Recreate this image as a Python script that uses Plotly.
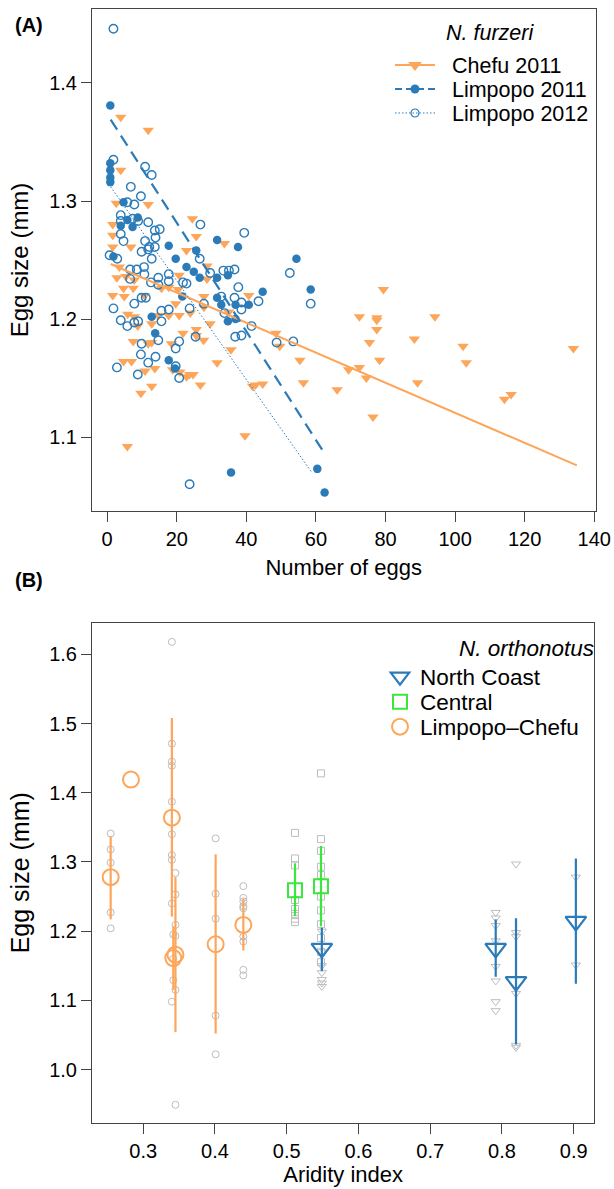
import plotly.graph_objects as go

# ---------------- Panel A data (N. furzeri) ----------------
chefu_x = [3.9, 11.8, 3.9, 2.6, 11.8, 24.5, 1.6, 1.6, 25.6, 33.7, 6.8, 1.6, 22.8, 3.5, 28.7, 28.7,
           5.4, 2.8, 7.8, 20.7, 20.4, 17.7, 15.6, 7.5, 4.7, 40.7, 27.8, 48.5, 34.9, 29.6, 25.6, 27.7,
           25.6, 23.9, 27.8, 19.7, 20.7, 17.7, 14.7, 12.8, 10.7, 1.6, 4.9, 5.9, 7.8, 8.8, 12.8, 7.5,
           11.8, 18.5, 21.8, 35.6, 31.6, 41.8, 44.7, 42.6, 39.6, 5.8, 55.4, 56.4, 66.1, 26.8, 23.7,
           22.8, 24.7, 18.8, 20.9, 12.8, 9.7, 13.7, 10.9, 4.7, 7.0, 49.6, 79.4, 72.5, 77.5, 77.5, 77.5,
           94.2, 75.4, 88.3, 102.3, 103.2, 134.0, 78.3, 69.4, 72.5, 74.5, 89.2, 114.2, 116.1, 76.4]
chefu_y = [1.371, 1.360, 1.326, 1.298, 1.297, 1.285, 1.280, 1.271, 1.270, 1.264, 1.261, 1.261, 1.258,
           1.244, 1.245, 1.234, 1.236, 1.235, 1.233, 1.237, 1.225, 1.227, 1.226, 1.226, 1.226, 1.220,
           1.219, 1.188, 1.206, 1.196, 1.191, 1.182, 1.186, 1.205, 1.210, 1.213, 1.203, 1.203, 1.203,
           1.196, 1.220, 1.220, 1.219, 1.204, 1.202, 1.194, 1.180, 1.181, 1.179, 1.179, 1.188, 1.174,
           1.163, 1.143, 1.145, 1.144, 1.101, 1.092, 1.165, 1.146, 1.140, 1.144, 1.153, 1.151, 1.153,
           1.157, 1.155, 1.143, 1.137, 1.158, 1.156, 1.164, 1.164, 1.177, 1.225, 1.202, 1.201, 1.199,
           1.191, 1.202, 1.180, 1.183, 1.177, 1.163, 1.175, 1.165, 1.157, 1.159, 1.150, 1.146, 1.132,
           1.136, 1.117]

lim11_x = [0.9, 0.9, 0.9, 0.9, 0.9, 4.7, 5.8, 8.8, 3.9, 7.3, 17.7, 31.6, 37.6, 25.6, 1.8, 19.7, 22.8,
           24.9, 26.6, 31.6, 34.7, 44.7, 31.6, 32.8, 36.9, 40.7, 54.4, 58.5, 34.7, 36.9, 12.8, 13.8,
           17.7, 35.6, 60.4, 62.5, 21.6, 19.5]
lim11_y = [1.381, 1.332, 1.326, 1.320, 1.316, 1.299, 1.284, 1.286, 1.279, 1.278, 1.262, 1.267, 1.261,
           1.258, 1.253, 1.251, 1.244, 1.240, 1.235, 1.235, 1.237, 1.223, 1.218, 1.212, 1.212, 1.212,
           1.251, 1.225, 1.198, 1.200, 1.202, 1.188, 1.165, 1.070, 1.073, 1.053, 1.219, 1.158]

lim12_x = [1.8, 1.8, 10.9, 12.8, 6.8, 9.7, 5.8, 7.8, 3.9, 3.9, 7.3, 8.9, 11.8, 26.8, 13.7, 15.1, 39.4,
           3.9, 13.9, 10.9, 4.7, 12.1, 9.9, 11.8, 0.7, 2.9, 26.6, 12.8, 29.6, 33.4, 35.0, 36.6, 6.6,
           8.5, 10.6, 6.6, 10.7, 14.7, 17.7, 12.6, 14.7, 17.7, 21.8, 22.8, 37.7, 43.5, 32.8, 36.6,
           38.6, 38.6, 58.5, 52.5, 48.7, 53.5, 41.5, 33.7, 23.7, 27.8, 17.7, 15.6, 15.6, 9.9, 7.8,
           1.8, 3.9, 5.8, 7.8, 8.9, 14.7, 9.9, 20.7, 19.7, 25.4, 36.8, 38.6, 20.7, 19.7, 13.9, 11.8,
           9.7, 2.8, 8.8, 23.7, 13.7, 11.1]
lim12_y = [1.446, 1.335, 1.329, 1.322, 1.312, 1.304, 1.299, 1.297, 1.288, 1.283, 1.285, 1.283, 1.282,
           1.280, 1.275, 1.276, 1.273, 1.272, 1.269, 1.266, 1.266, 1.261, 1.257, 1.259, 1.254, 1.251,
           1.251, 1.251, 1.239, 1.241, 1.241, 1.242, 1.242, 1.242, 1.244, 1.234, 1.238, 1.235, 1.238,
           1.231, 1.229, 1.232, 1.231, 1.230, 1.227, 1.215, 1.219, 1.218, 1.214, 1.208, 1.213, 1.239,
           1.180, 1.181, 1.194, 1.205, 1.209, 1.213, 1.208, 1.207, 1.198, 1.218, 1.213, 1.209, 1.199,
           1.194, 1.197, 1.198, 1.182, 1.179, 1.181, 1.175, 1.185, 1.185, 1.186, 1.150, 1.160, 1.168,
           1.163, 1.170, 1.159, 1.153, 1.060, 1.261, 1.218]

# fitted regression lines (end points)
chefu_fit_x = [1, 135]
chefu_fit_y = [1.2466, 1.0759]
lim11_fit_x = [1, 62.5]
lim11_fit_y = [1.369, 1.086]
lim12_fit_x = [1, 58.8]
lim12_fit_y = [1.312, 1.070]

# ---------------- Panel B data (N. orthonotus) ----------------
lc_ind_x = ([0.2547] * 5 + [0.340] * 10 + [0.345] * 6 + [0.342] * 3 + [0.401] * 5 + [0.4396] * 9)
lc_ind_y = [1.341, 1.318, 1.299, 1.227, 1.204,
            1.618, 1.471, 1.445, 1.439, 1.387, 1.340, 1.310, 1.303, 1.240, 1.098,
            1.284, 1.253, 1.209, 1.193, 1.115, 0.949,
            1.195, 1.160, 1.129,
            1.334, 1.254, 1.218, 1.078, 1.022,
            1.265, 1.248, 1.243, 1.236, 1.233, 1.192, 1.185, 1.144, 1.136]
ce_ind_x = [0.5116] * 8 + [0.5478] * 11
ce_ind_y = [1.342, 1.305, 1.295, 1.245, 1.232, 1.225, 1.218, 1.213,
            1.428, 1.333, 1.316, 1.293, 1.281, 1.250, 1.230, 1.210, 1.190, 1.170, 1.155]
nc_ind_x = [0.549] * 7 + [0.7913] * 8 + [0.8196] * 6 + [0.903] * 2
nc_ind_y = [1.200, 1.170, 1.150, 1.140, 1.130, 1.125, 1.120,
            1.227, 1.219, 1.208, 1.186, 1.149, 1.128, 1.098, 1.085,
            1.297, 1.198, 1.192, 1.110, 1.035, 1.032,
            1.278, 1.151]

lc_x = [0.2547, 0.283, 0.340, 0.342, 0.345, 0.401, 0.4396]
lc_mean = [1.278, 1.419, 1.364, 1.161, 1.166, 1.181, 1.209]
lc_hi = [1.337, 1.419, 1.508, 1.207, 1.278, 1.311, 1.247]
lc_lo = [1.217, 1.419, 1.221, 1.115, 1.054, 1.052, 1.172]
ce_x = [0.5116, 0.5478]
ce_mean = [1.259, 1.265]
ce_hi = [1.298, 1.323]
ce_lo = [1.222, 1.207]
nc_x = [0.549, 0.7913, 0.8196, 0.903]
nc_mean = [1.175, 1.175, 1.127, 1.214]
nc_hi = [1.205, 1.217, 1.2185, 1.305]
nc_lo = [1.142, 1.134, 1.036, 1.124]

ORANGE = "#FDA65A"
BLUE = "#2B7BB9"
GREEN = "#3CE63C"
GREY = "#BDBDBD"
FONT = "Liberation Sans, Arial, sans-serif"

W, H = 614, 1189
NB = "\u00a0\u00a0"  # small gap between legend symbol and its text

fig = go.Figure()

# ---- panel A ----
fig.add_trace(go.Scatter(x=chefu_x, y=chefu_y, mode="markers", showlegend=False,
                         marker=dict(symbol="triangle-down", size=10, color=ORANGE, line=dict(width=0)),
                         xaxis="x", yaxis="y"))
fig.add_trace(go.Scatter(x=lim12_x, y=lim12_y, mode="markers", showlegend=False,
                         marker=dict(symbol="circle-open", size=8.5, color=BLUE, line=dict(width=1.4)),
                         xaxis="x", yaxis="y"))
fig.add_trace(go.Scatter(x=lim11_x, y=lim11_y, mode="markers", showlegend=False,
                         marker=dict(symbol="circle", size=8.5, color=BLUE, line=dict(width=0)),
                         xaxis="x", yaxis="y"))
fig.add_trace(go.Scatter(x=chefu_fit_x, y=chefu_fit_y, mode="lines", showlegend=False,
                         line=dict(color=ORANGE, width=2), xaxis="x", yaxis="y"))
fig.add_trace(go.Scatter(x=lim11_fit_x, y=lim11_fit_y, mode="lines", showlegend=False,
                         line=dict(color=BLUE, width=2.2, dash="12px,7px"), xaxis="x", yaxis="y"))
fig.add_trace(go.Scatter(x=lim12_fit_x, y=lim12_fit_y, mode="lines", showlegend=False,
                         line=dict(color=BLUE, width=1, dash="1.5px,2px"), xaxis="x", yaxis="y"))

# legend entries for panel A (one legend box per entry to control spacing)
fig.add_trace(go.Scatter(x=[None], y=[None], mode="lines+markers", name=NB + "Chefu 2011",
                         line=dict(color=ORANGE, width=2),
                         marker=dict(symbol="triangle-down", size=12, color=ORANGE),
                         xaxis="x", yaxis="y", legend="legend"))
fig.add_trace(go.Scatter(x=[None], y=[None], mode="lines+markers", name=NB + "Limpopo 2011",
                         line=dict(color=BLUE, width=2, dash="7px,4px"),
                         marker=dict(symbol="circle", size=9, color=BLUE),
                         xaxis="x", yaxis="y", legend="legend2"))
fig.add_trace(go.Scatter(x=[None], y=[None], mode="lines+markers", name=NB + "Limpopo 2012",
                         line=dict(color=BLUE, width=1, dash="1.5px,2px"),
                         marker=dict(symbol="circle-open", size=8, color=BLUE, line=dict(width=1.2)),
                         xaxis="x", yaxis="y", legend="legend3"))

# ---- panel B ----
fig.add_trace(go.Scatter(x=lc_ind_x, y=lc_ind_y, mode="markers", showlegend=False,
                         marker=dict(symbol="circle-open", size=7, color=GREY, line=dict(width=1)),
                         xaxis="x2", yaxis="y2"))
fig.add_trace(go.Scatter(x=ce_ind_x, y=ce_ind_y, mode="markers", showlegend=False,
                         marker=dict(symbol="square-open", size=7, color=GREY, line=dict(width=1)),
                         xaxis="x2", yaxis="y2"))
fig.add_trace(go.Scatter(x=nc_ind_x, y=nc_ind_y, mode="markers", showlegend=False,
                         marker=dict(symbol="triangle-down-open", size=8, color=GREY, line=dict(width=1)),
                         xaxis="x2", yaxis="y2"))


def bars(m, hi, lo):
    return dict(type="data", symmetric=False,
                array=[h - v for h, v in zip(hi, m)],
                arrayminus=[v - l for v, l in zip(m, lo)])


fig.add_trace(go.Scatter(x=nc_x, y=nc_mean, mode="markers", name="North Coast",
                         marker=dict(symbol="triangle-down-open", size=18, color=BLUE, line=dict(width=2.2)),
                         error_y=dict(bars(nc_mean, nc_hi, nc_lo), color=BLUE, thickness=2.2, width=0),
                         xaxis="x2", yaxis="y2", legend="legend4"))
fig.add_trace(go.Scatter(x=ce_x, y=ce_mean, mode="markers", name="Central",
                         marker=dict(symbol="square-open", size=14, color=GREEN, line=dict(width=2)),
                         error_y=dict(bars(ce_mean, ce_hi, ce_lo), color=GREEN, thickness=2.2, width=0),
                         xaxis="x2", yaxis="y2", legend="legend5"))
fig.add_trace(go.Scatter(x=lc_x, y=lc_mean, mode="markers", name="Limpopo\u2013Chefu",
                         marker=dict(symbol="circle-open", size=16, color=ORANGE, line=dict(width=2)),
                         error_y=dict(bars(lc_mean, lc_hi, lc_lo), color=ORANGE, thickness=2.2, width=0),
                         xaxis="x2", yaxis="y2", legend="legend6"))

axis_common = dict(showline=True, linecolor="#444", linewidth=1, mirror=True, ticks="outside",
                   ticklen=10, tickwidth=1, tickcolor="#444", showgrid=False, zeroline=False,
                   automargin=False, ticklabeloverflow="allow",
                   tickfont=dict(family=FONT, size=20, color="black"))

LEG_FONT = dict(family=FONT, size=21.5, color="black")
LEG_FONT_B = dict(family=FONT, size=22.5, color="black")


def leg(x, y, font, iw=30):
    return dict(x=x / W, y=1 - y / H, xanchor="left", yanchor="middle",
                bgcolor="rgba(0,0,0,0)", itemwidth=iw, font=font)


def label(text, x, y, font):
    return dict(text=text, x=x / W, y=1 - y / H, xref="paper", yref="paper",
                xanchor="center", yanchor="middle", showarrow=False, font=font)


fig.update_layout(
    width=W, height=H, margin=dict(l=0, r=0, t=0, b=0),
    paper_bgcolor="white", plot_bgcolor="white",
    font=dict(family=FONT, color="black"),
    xaxis=dict(axis_common, domain=[92 / W, 595.5 / W], range=[-4.36, 140.36],
               tickvals=[0, 20, 40, 60, 80, 100, 120, 140], anchor="y",
               title=dict(text="Number of eggs", standoff=10,
                          font=dict(family=FONT, size=22, color="black"))),
    yaxis=dict(axis_common, domain=[1 - 511 / H, 1 - 9 / H], range=[1.0373, 1.4627],
               tickvals=[1.1, 1.2, 1.3, 1.4], ticktext=["1.1", "1.2", "1.3", "1.4"], anchor="x",
               title=dict(text="Egg size (mm)", standoff=13,
                          font=dict(family=FONT, size=24, color="black"))),
    xaxis2=dict(axis_common, domain=[92 / W, 594.3 / W], range=[0.2287, 0.9287],
                tickvals=[0.3, 0.4, 0.5, 0.6, 0.7, 0.8, 0.9], anchor="y2",
                title=dict(text="Aridity index", standoff=5,
                           font=dict(family=FONT, size=22, color="black"))),
    yaxis2=dict(axis_common, domain=[1 - 1123 / H, 1 - 622.5 / H], range=[0.9227, 1.646],
                tickvals=[1.0, 1.1, 1.2, 1.3, 1.4, 1.5, 1.6],
                ticktext=["1.0", "1.1", "1.2", "1.3", "1.4", "1.5", "1.6"], anchor="x2",
                title=dict(text="Egg size (mm)", standoff=12,
                           font=dict(family=FONT, size=25, color="black"))),
    legend=leg(390, 65, LEG_FONT, 40),
    legend2=leg(390, 89, LEG_FONT, 40),
    legend3=leg(390, 113, LEG_FONT, 40),
    legend4=leg(380, 677, LEG_FONT_B),
    legend5=leg(380, 702, LEG_FONT_B),
    legend6=leg(380, 727, LEG_FONT_B),
    annotations=[
        label("<i>N. furzeri</i>", 490, 33, LEG_FONT),
        label("<i>N. orthonotus</i>", 526, 648, LEG_FONT_B),
        label("<b>(A)</b>", 29, 25, dict(family=FONT, size=20, color="black")),
        label("<b>(B)</b>", 29, 580, dict(family=FONT, size=20, color="black")),
    ],
)

# the page's default body margin would shift the figure by 8 px; remove it
fig.write_html("out.html",
               config={"displayModeBar": False},
               post_script="document.body.style.margin='0';document.body.style.overflow='hidden';")
